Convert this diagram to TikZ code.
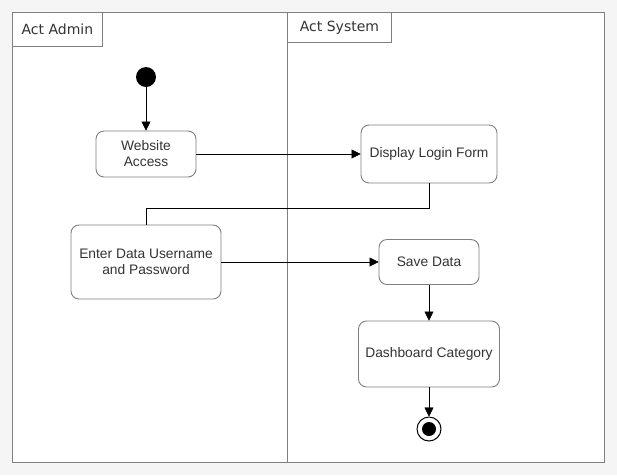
\documentclass[tikz,border=0pt]{standalone}
\usepackage{fontspec}
\setmainfont{Liberation Sans}
\newfontfamily\hdrfont{DejaVu Sans}
\usetikzlibrary{arrows.meta}
\definecolor{bg}{HTML}{F5F5F5}
\definecolor{txt}{HTML}{333333}
\definecolor{brd}{HTML}{7F7F7F}
\begin{document}
\begin{tikzpicture}[x=1pt,y=-1pt,
  act/.style={draw=brd,line width=0.9pt,rounded corners=8pt,fill=white,text=txt,font=\fontsize{13.8}{16}\selectfont,align=center,inner sep=0pt},
  hdr/.style={draw=brd,line width=0.9pt,fill=white,text=txt,font=\hdrfont\fontsize{14}{16}\selectfont,anchor=north west,inner sep=0pt},
  flow/.style={draw=black,-{Triangle[length=9pt,width=9pt]}},
  line/.style={draw=black}]
\fill[bg] (0,0) rectangle (617,475);
\useasboundingbox (0,0) rectangle (617,475);
\draw[brd,line width=0.9pt,fill=white] (12,12) rectangle (604,462);
\draw[brd,line width=0.9pt] (287,12) -- (287,462);
\node[hdr,minimum width=90pt,minimum height=34pt] (h1) at (12,12) {Act Admin};
\node[hdr,minimum width=104pt,minimum height=30pt] (h2) at (287,12) {Act System};
\node[circle,fill=black,minimum size=20pt,inner sep=0pt] (start) at (146,77) {};
\node[act,minimum width=100pt,minimum height=46pt] (web) at (146,154) {Website\\Access};
\node[act,minimum width=136pt,minimum height=58pt] (login) at (429,154) {Display Login Form};
\node[act,minimum width=150pt,minimum height=74pt] (enter) at (146,262) {Enter Data Username\\and Password};
\node[act,minimum width=100pt,minimum height=45pt] (save) at (429,262) {Save Data};
\node[act,minimum width=141pt,minimum height=66pt] (dash) at (429,354) {Dashboard Category};
\node[circle,draw=black,line width=1pt,fill=white,minimum size=24pt,inner sep=0pt] (end) at (429,429) {};
\node[circle,fill=black,minimum size=14pt,inner sep=0pt] (endin) at (end.center) {};
\draw[flow] (start) -- (web);
\draw[flow] (web) -- (login);
\draw[line] (login.south) -- ++(0,25) -| (enter.north);
\draw[flow] (enter) -- (save);
\draw[flow] (save) -- (dash);
\draw[flow] (dash) -- (end);
\end{tikzpicture}
\end{document}
